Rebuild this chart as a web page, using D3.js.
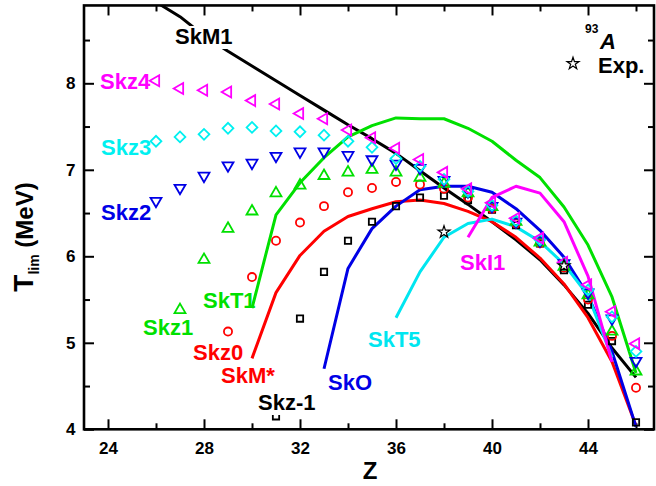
<!DOCTYPE html>
<html>
<head>
<meta charset="utf-8">
<script src="https://cdn.jsdelivr.net/npm/d3@7"></script>
<style>
  body { margin: 0; background: #fff; }
  svg { display: block; font-family: "Liberation Sans", Arial, sans-serif; font-weight: bold; }
  .tick line { stroke: #000; stroke-width: 2; }
  .tick text { font-size: 17px; font-weight: bold; fill: #000; font-family: "Liberation Sans", Arial, sans-serif; }
  .domain { display: none; }
</style>
</head>
<body>
<svg id="chart" width="656" height="486"></svg>
<script>
// marker series (Z from first value, step 1)
let skz4Z = d3.range(26, 47)
let skz4 = [8.03, 7.94, 7.92, 7.90, 7.80, 7.76, 7.65, 7.59, 7.46, 7.37, 7.25, 7.12, 6.97, 6.78, 6.62, 6.44, 6.21, 5.93, 5.67, 5.36, 4.99]
let skz3Z = d3.range(26, 47)
let skz3 = [7.33, 7.38, 7.41, 7.48, 7.49, 7.45, 7.44, 7.40, 7.33, 7.26, 7.13, 7.04, 6.89, 6.75, 6.59, 6.41, 6.19, 5.92, 5.61, 5.30, 4.90]
let skz2Z = d3.range(26, 47)
let skz2 = [6.64, 6.79, 6.93, 7.05, 7.08, 7.16, 7.21, 7.21, 7.17, 7.12, 7.07, 7.02, 6.88, 6.75, 6.58, 6.40, 6.18, 5.92, 5.58, 5.28, 4.79]
let skz1Z = d3.range(27, 47)
let skz1 = [5.38, 5.96, 6.32, 6.52, 6.73, 6.82, 6.93, 6.97, 7.00, 6.97, 6.91, 6.84, 6.73, 6.57, 6.40, 6.16, 5.88, 5.55, 5.13, 4.67]
let skz0Z = d3.range(29, 47)
let skz0 = [5.13, 5.76, 6.18, 6.39, 6.58, 6.74, 6.79, 6.86, 6.83, 6.78, 6.68, 6.55, 6.38, 6.15, 5.87, 5.50, 5.08, 4.48]
let skzm1Z = d3.range(31, 47)
let skzm1 = [4.15, 5.28, 5.82, 6.18, 6.40, 6.58, 6.68, 6.70, 6.65, 6.54, 6.36, 6.15, 5.84, 5.44, 5.02, 4.08]
let expZ = [38, 43]
let expT = [6.28, 5.89]

// calculated curves
let skm1Z = d3.range(26, 47)
let skm1 = [8.94, 8.77, 8.55, 8.37, 8.20, 8.03, 7.86, 7.69, 7.52, 7.36, 7.19, 6.99, 6.79, 6.60, 6.40, 6.19, 5.96, 5.67, 5.34, 4.94, 4.60]
let skt1Z = d3.range(30, 47)
let skt1 = [5.40, 6.48, 6.85, 7.14, 7.38, 7.51, 7.60, 7.59, 7.59, 7.48, 7.33, 7.11, 6.91, 6.57, 6.13, 5.53, 4.65]
let skmsZ = d3.range(30, 47)
let skms = [4.82, 5.58, 6.01, 6.29, 6.46, 6.55, 6.63, 6.65, 6.61, 6.52, 6.40, 6.22, 5.98, 5.68, 5.29, 4.78, 4.04]
let skoZ = d3.range(33, 47)
let sko = [4.70, 5.86, 6.32, 6.58, 6.77, 6.81, 6.81, 6.74, 6.55, 6.30, 5.99, 5.55, 4.90, 4.03]
let skt5Z = d3.range(36, 46)
let skt5 = [5.29, 5.82, 6.22, 6.38, 6.43, 6.34, 6.17, 5.91, 5.55, 4.83]
let ski1Z = d3.range(39, 46)
let ski1 = [6.22, 6.68, 6.81, 6.73, 6.40, 5.77, 4.78]

let xTicks = [24, 28, 32, 36, 40, 44]
let xMinor = [26, 30, 34, 38, 42, 46]
let yTicks = [4, 5, 6, 7, 8]
let yMinor = [4.5, 5.5, 6.5, 7.5, 8.5]

let svg = d3.select('#chart')

let x = d3.scaleLinear().domain([23, 46.75]).range([84, 654])
let y = d3.scaleLinear().domain([4, 8.9]).range([429.3, 5.45])

svg.append('defs').append('clipPath').attr('id', 'plotClip')
    .append('rect')
    .attr('x', x(23)).attr('y', y(8.9))
    .attr('width', x(46.75) - x(23)).attr('height', y(4) - y(8.9))

// axes, ticks inward
let axG = svg.append('g')
axG.append('g').attr('transform', `translate(0, ${y(4)})`)
    .call(d3.axisBottom(x).tickValues(xTicks).tickSize(-10).tickPadding(13).tickFormat(d3.format('d')))
axG.append('g').attr('transform', `translate(0, ${y(4)})`)
    .call(d3.axisBottom(x).tickValues(xMinor).tickSize(-6).tickFormat(''))
axG.append('g').attr('transform', `translate(0, ${y(8.9)})`)
    .call(d3.axisTop(x).tickValues(xTicks).tickSize(-10).tickFormat(''))
axG.append('g').attr('transform', `translate(0, ${y(8.9)})`)
    .call(d3.axisTop(x).tickValues(xMinor).tickSize(-6).tickFormat(''))
axG.append('g').attr('transform', `translate(${x(23)}, 0)`)
    .call(d3.axisLeft(y).tickValues(yTicks).tickSize(-10).tickPadding(8.5).tickFormat(d3.format('d')))
axG.append('g').attr('transform', `translate(${x(23)}, 0)`)
    .call(d3.axisLeft(y).tickValues(yMinor).tickSize(-6).tickFormat(''))
axG.append('g').attr('transform', `translate(${x(46.75)}, 0)`)
    .call(d3.axisRight(y).tickValues(yTicks).tickSize(-10).tickFormat(''))
axG.append('g').attr('transform', `translate(${x(46.75)}, 0)`)
    .call(d3.axisRight(y).tickValues(yMinor).tickSize(-6).tickFormat(''))
axG.selectAll('.tick text').attr('font-family', null).attr('font-size', null)

// lines
let line = d3.line().x(d => x(d[0])).y(d => y(d[1]))
let zip = (zs, ts) => zs.map((z, i) => [z, ts[i]])

let curves = [
    {z: skm1Z, t: skm1, color: '#000000'},
    {z: skt1Z, t: skt1, color: '#00e000'},
    {z: skmsZ, t: skms, color: '#ff0000'},
    {z: skoZ, t: sko, color: '#0000e6'},
    {z: skt5Z, t: skt5, color: '#00e6f0'},
    {z: ski1Z, t: ski1, color: '#ff00ff'}
]

let lineG = svg.append('g').attr('clip-path', 'url(#plotClip)')

// markers
let markG = svg.append('g')
let series = [
    {z: skzm1Z, t: skzm1, color: '#000000', type: d3.symbolSquare, size: 40, rot: 0},
    {z: skz0Z, t: skz0, color: '#ff0000', type: d3.symbolCircle, size: 52, rot: 0},
    {z: skz1Z, t: skz1, color: '#00e000', type: d3.symbolTriangle, size: 52, rot: 0},
    {z: skz2Z, t: skz2, color: '#0000e6', type: d3.symbolTriangle, size: 52, rot: 180},
    {z: skz3Z, t: skz3, color: '#00f0f0', type: d3.symbolSquare, size: 58, rot: 45},
    {z: skz4Z, t: skz4, color: '#ff00ff', type: d3.symbolTriangle, size: 52, rot: -90}
]

series.forEach(s => {
    markG.selectAll(null)
        .data(zip(s.z, s.t))
        .enter().append('path')
        .attr('d', d3.symbol().type(s.type).size(s.size))
        .attr('transform', d => `translate(${x(d[0])}, ${y(d[1])}) rotate(${s.rot})`)
        .attr('fill', 'none')
        .attr('stroke', s.color)
        .attr('stroke-width', 1.8)
})

curves.forEach(c => {
    lineG.append('path')
        .datum(zip(c.z, c.t))
        .attr('d', line)
        .attr('fill', 'none')
        .attr('stroke', c.color)
        .attr('stroke-width', 3)
        .attr('stroke-linejoin', 'round')
})

let star = d3.symbol().type(d3.symbolStar).size(45)
markG.selectAll('.exp')
    .data(zip(expZ, expT))
    .enter().append('path')
    .attr('class', 'exp')
    .attr('d', star)
    .attr('transform', d => `translate(${x(d[0])}, ${y(d[1])})`)
    .attr('fill', 'white')
    .attr('stroke', '#000')
    .attr('stroke-width', 1.2)

// frame
svg.append('rect')
    .attr('x', x(23)).attr('y', y(8.9))
    .attr('width', x(46.75) - x(23)).attr('height', y(4) - y(8.9))
    .attr('fill', 'none').attr('stroke', '#000').attr('stroke-width', 2.6)

// labels
let labels = [
    {text: 'SkM1', x: 175, y: 44, color: '#000000', bg: true},
    {text: 'Skz4', x: 100, y: 89, color: '#ff00ff'},
    {text: 'Skz3', x: 101, y: 155, color: '#00f0f0'},
    {text: 'Skz2', x: 101, y: 220, color: '#0000e6'},
    {text: 'SkT1', x: 203, y: 308, color: '#00e000'},
    {text: 'Skz1', x: 143, y: 335, color: '#00e000'},
    {text: 'Skz0', x: 193, y: 360, color: '#ff0000'},
    {text: 'SkM*', x: 221, y: 383, color: '#ff0000'},
    {text: 'Skz-1', x: 258, y: 410, color: '#000000', bg: true},
    {text: 'SkO', x: 328, y: 390, color: '#0000e6'},
    {text: 'SkT5', x: 368, y: 347, color: '#00e6f0'},
    {text: 'SkI1', x: 460, y: 270, color: '#ff00ff'}
]
let labG = svg.append('g')
labels.forEach(l => {
    let t = labG.append('text')
        .attr('x', l.x).attr('y', l.y)
        .attr('font-size', 22)
        .attr('fill', l.color)
        .text(l.text)
    if (l.bg) {
        let b = t.node().getBBox()
        labG.insert('rect', 'text')
            .attr('x', b.x - 2).attr('y', b.y + 2)
            .attr('width', b.width + 4).attr('height', b.height - 2)
            .attr('fill', 'white')
    }
})

// legend
svg.append('text').attr('x', 585).attr('y', 33).attr('font-size', 12).text('93')
svg.append('text').attr('x', 600).attr('y', 49).attr('font-size', 22).attr('font-style', 'italic').text('A')
svg.append('path')
    .attr('d', star)
    .attr('transform', 'translate(573, 63.5)')
    .attr('fill', 'white').attr('stroke', '#000').attr('stroke-width', 1.2)
svg.append('text').attr('x', 598).attr('y', 73).attr('font-size', 22).text('Exp.')

// axis titles
svg.append('text')
    .attr('x', 370).attr('y', 479)
    .attr('text-anchor', 'middle')
    .attr('font-size', 24)
    .text('Z')

let yt = svg.append('text')
    .attr('transform', 'translate(33, 237) rotate(-90)')
    .attr('text-anchor', 'middle')
yt.append('tspan').attr('font-size', 28).text('T')
yt.append('tspan').attr('font-size', 14).attr('dy', 6).text('lim')
yt.append('tspan').attr('font-size', 24).attr('dy', -6).text(' (MeV)')
</script>
</body>
</html>
